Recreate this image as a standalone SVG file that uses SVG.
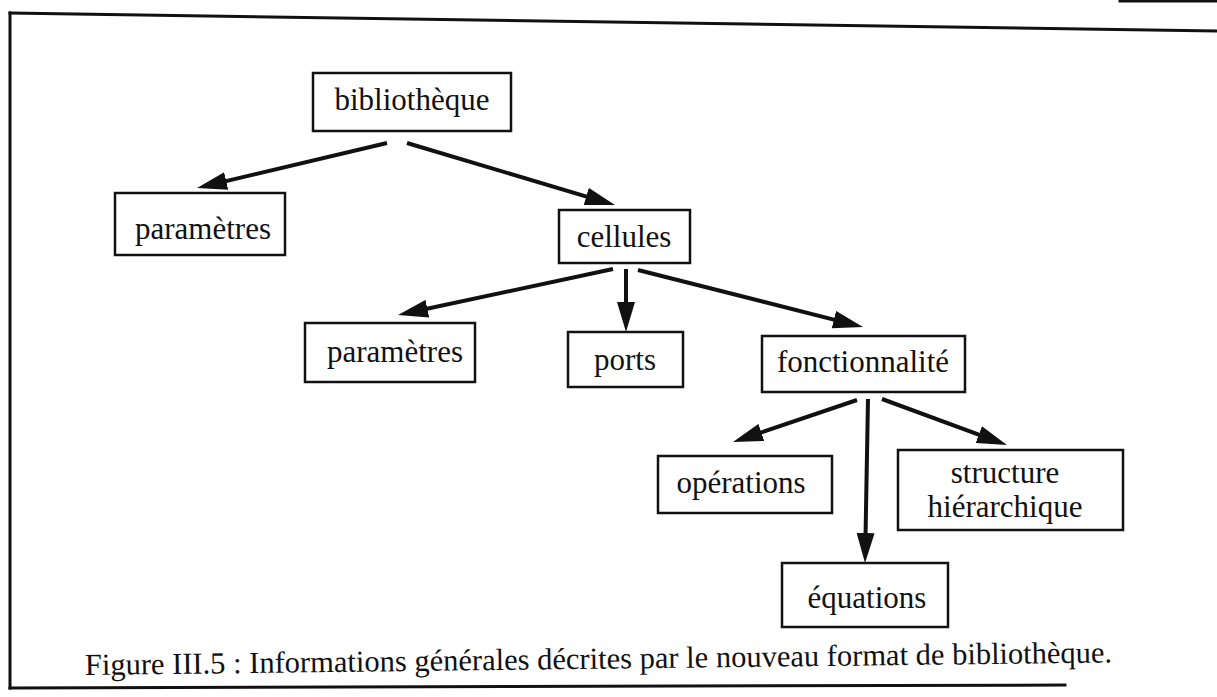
<svg xmlns="http://www.w3.org/2000/svg" width="1217" height="697" viewBox="0 0 1217 697">
  <style>
    .frame { fill: none; stroke: #111; stroke-width: 3; stroke-linecap: square; }
    .box { fill: #fff; stroke: #111; stroke-width: 2.5; }
    .label { font-family: "Liberation Serif", "DejaVu Serif", serif; font-size: 31px; fill: #111; text-anchor: middle; }
    .caption { font-family: "Liberation Serif", "DejaVu Serif", serif; font-size: 30.5px; fill: #111; }
    .edge { fill: none; stroke: #111; stroke-width: 4; }
  </style>
  <defs>
    <marker id="arrow" markerUnits="userSpaceOnUse" markerWidth="30" markerHeight="18" viewBox="0 0 30 18" refX="10" refY="9" orient="auto">
      <path d="M0,0 L30,9 L0,18 Z" fill="#111"/>
    </marker>
  </defs>
  <rect width="1217" height="697" fill="#fff"/>

  <!-- page frame -->
  <g id="frame">
    <line class="frame" x1="10" y1="13" x2="1217" y2="31"/>
    <line class="frame" x1="10" y1="13" x2="10" y2="688"/>
    <line class="frame" x1="10" y1="688" x2="1065" y2="685"/>
    <line class="frame" x1="1120" y1="1" x2="1217" y2="1" stroke-width="2"/>
  </g>

  <!-- connectors -->
  <g id="connectors">
    <line class="edge" x1="387" y1="143" x2="216.5" y2="183.4" marker-end="url(#arrow)"/>
    <line class="edge" x1="407" y1="143" x2="595.8" y2="199.3" marker-end="url(#arrow)"/>
    <line class="edge" x1="613" y1="269" x2="417.6" y2="310.8" marker-end="url(#arrow)"/>
    <line class="edge" x1="626" y1="269" x2="626" y2="312" marker-end="url(#arrow)"/>
    <line class="edge" x1="638" y1="270" x2="843.6" y2="322.1" marker-end="url(#arrow)"/>
    <line class="edge" x1="857" y1="400" x2="751.9" y2="435.6" marker-end="url(#arrow)"/>
    <line class="edge" x1="868" y1="399" x2="865.4" y2="543" marker-end="url(#arrow)"/>
    <line class="edge" x1="882" y1="399" x2="988.2" y2="438.1" marker-end="url(#arrow)"/>
  </g>

  <g id="bibliotheque">
    <rect class="box" x="313" y="73" width="198" height="58"/>
    <text class="label" x="412" y="110">bibliothèque</text>
  </g>
  <g id="parametres-lib">
    <rect class="box" x="115" y="193" width="170" height="62"/>
    <text class="label" x="203" y="239">paramètres</text>
  </g>
  <g id="cellules">
    <rect class="box" x="559" y="210" width="131" height="53"/>
    <text class="label" x="624" y="247">cellules</text>
  </g>
  <g id="parametres-cell">
    <rect class="box" x="305" y="323" width="170" height="59"/>
    <text class="label" x="395" y="362">paramètres</text>
  </g>
  <g id="ports">
    <rect class="box" x="568" y="332" width="115" height="55"/>
    <text class="label" x="625" y="370">ports</text>
  </g>
  <g id="fonctionnalite">
    <rect class="box" x="762" y="336" width="203" height="56"/>
    <text class="label" x="863" y="372">fonctionnalité</text>
  </g>
  <g id="operations">
    <rect class="box" x="658" y="456" width="174" height="57"/>
    <text class="label" x="741" y="493">opérations</text>
  </g>
  <g id="structure">
    <rect class="box" x="898" y="450" width="225" height="80"/>
    <text class="label" x="1005" y="483">structure</text>
    <text class="label" x="1005" y="517">hiérarchique</text>
  </g>
  <g id="equations">
    <rect class="box" x="782" y="563" width="166" height="64"/>
    <text class="label" x="867" y="608">équations</text>
  </g>

  <g id="caption">
    <text class="caption" x="85" y="675" transform="rotate(-0.7 85 675)">Figure III.5 : Informations générales décrites par le nouveau format de bibliothèque.</text>
  </g>
</svg>
